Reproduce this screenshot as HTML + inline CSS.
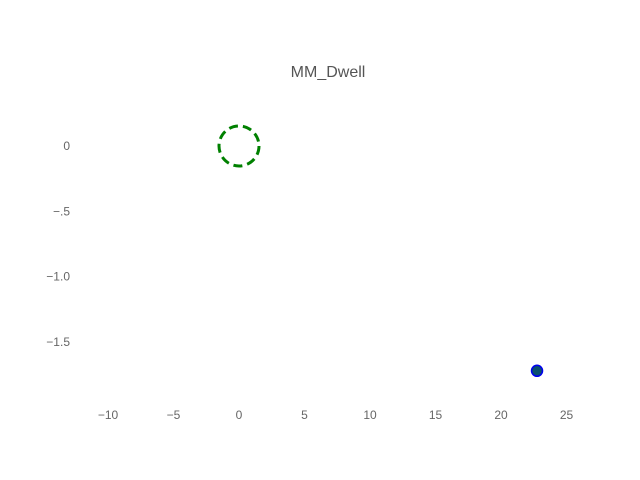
<!DOCTYPE html>
<html><head><meta charset="utf-8"><style>
body{margin:0;background:#fff;}
svg{display:block;font-family:"Liberation Sans",sans-serif;}
</style></head><body>
<svg id="chart" width="640" height="480">
<text x="328" y="77" text-anchor="middle" font-size="16" fill="#555">MM_Dwell</text>
<g id="xt"></g>
<g id="yt"></g>
<g id="marks"></g>
</svg>
<script>
const xTicks=[-10,-5,0,5,10,15,20,25];
const yTicks=[0,-0.5,-1.0,-1.5];
const yLabels=["0","−.5","−1.0","−1.5"];
const circleX=[0];
const circleY=[0];
const pointX=[22.75];
const pointY=[-1.72];
const sx=v=>239+v*13.1;
const sy=v=>146-v*130.7;
const NS="http://www.w3.org/2000/svg";
function mk(t,a,p){const e=document.createElementNS(NS,t);for(const k in a)e.setAttribute(k,a[k]);p.appendChild(e);return e;}
const xt=document.getElementById('xt'),yt=document.getElementById('yt'),m=document.getElementById('marks');
xTicks.forEach(v=>{const t=mk('text',{x:sx(v),y:419,'text-anchor':'middle','font-size':12,fill:'#666'},xt);t.textContent=v<0?'−'+(-v):String(v);

});
yTicks.forEach((v,i)=>{const t=mk('text',{x:70,y:sy(v)+4,'text-anchor':'end','font-size':12,fill:'#666'},yt);t.textContent=yLabels[i];

});
circleX.forEach((v,i)=>{const c=mk('circle',{cx:sx(v),cy:sy(circleY[i]),r:20,fill:'none',stroke:'#008000','stroke-width':3,'stroke-dasharray':'9 5'},m);

});
pointX.forEach((v,i)=>{const c=mk('circle',{cx:sx(v),cy:sy(pointY[i]),r:5.5,fill:'#0a4f70',stroke:'#0000ee','stroke-width':1.5},m);

});
</script>
</body></html>
